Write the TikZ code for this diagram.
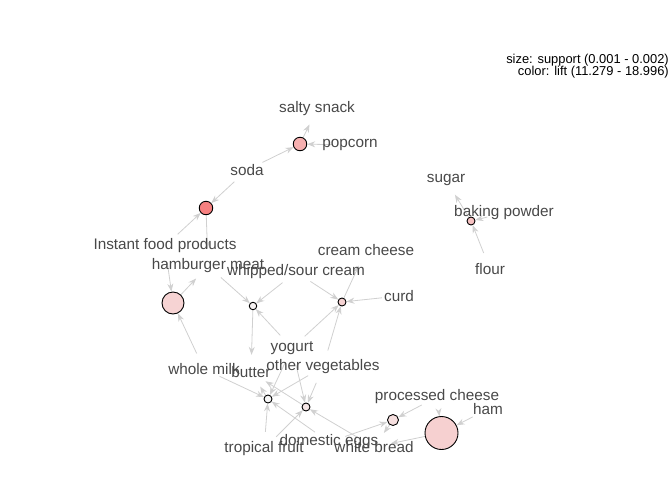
\documentclass[tikz,border=0pt]{standalone}
\usepackage{fontspec}
\setmainfont{Liberation Sans}
\usetikzlibrary{arrows.meta,backgrounds}

\definecolor{liftred}{HTML}{EE0000}
\definecolor{liftgrey}{HTML}{EEEEEE}
\definecolor{edgegrey}{RGB}{208,208,208}
\definecolor{labelgrey}{RGB}{72,72,72}

\tikzset{
  itemnode/.style={circle, minimum size=34pt, inner sep=0pt},
  itemtext/.style={text=labelgrey, inner sep=0pt, font=\fontsize{15.3}{18}\selectfont},
  rulenode/.style={circle, draw=black, line width=0.9pt, inner sep=0pt, fill=liftred!#1!liftgrey!50!white},
  ruleedge/.style={edgegrey, line width=0.8pt, -{Stealth[length=8pt,width=6pt]}},
}

\begin{document}
\begin{tikzpicture}[x=1pt, y=-1pt]
	\useasboundingbox (0,0) rectangle (672,480);
	
	% items
	\node[itemnode, label={[itemtext]center:salty snack}] (salty) at (317,109) {};
	\node[itemnode, label={[itemtext]center:popcorn}] (popcorn) at (350,145) {};
	\node[itemnode, label={[itemtext]center:soda}] (soda) at (247,170) {};
	\node[itemnode, label={[itemtext]center:sugar}] (sugar) at (446,180) {};
	\node[itemnode, label={[itemtext]center:baking powder}] (bakingpowder) at (504,213) {};
	\node[itemnode, label={[itemtext]center:flour}] (flour) at (490,269) {};
	\node[itemnode, label={[itemtext]center:Instant food products}] (instant) at (165,246) {};
	\node[itemnode, label={[itemtext]center:hamburger meat}] (hamburger) at (208,266) {};
	\node[itemnode, label={[itemtext]center:whipped/sour cream}] (whipped) at (296,272) {};
	\node[itemnode, label={[itemtext]center:cream cheese}] (creamcheese) at (366,250) {};
	\node[itemnode, label={[itemtext]center:curd}] (curd) at (399,296) {};
	\node[itemnode, label={[itemtext]center:yogurt}] (yogurt) at (292,348) {};
	\node[itemnode, label={[itemtext]center:other vegetables}] (othveg) at (323,367) {};
	\node[itemnode, label={[itemtext]center:whole milk}] (wholemilk) at (204,369) {};
	\node[itemnode, label={[itemtext]center:butter}] (butter) at (251,372) {};
	\node[itemnode, label={[itemtext]center:processed cheese}] (processed) at (437,397) {};
	\node[itemnode, label={[itemtext]center:ham}] (ham) at (488,409) {};
	\node[itemnode, label={[itemtext]center:tropical fruit}] (tropical) at (264,449) {};
	\node[itemnode, label={[itemtext]center:domestic eggs}] (eggs) at (329,442) {};
	\node[itemnode, label={[itemtext]center:white bread}] (whitebread) at (374,447) {};
	
	% rules
	\node[rulenode=60, minimum size=13.5pt] (r1) at (300,144) {};
	\node[rulenode=100, minimum size=13.5pt] (r2) at (206,208) {};
	\node[rulenode=30, minimum size=22pt] (r3) at (173,303) {};
	\node[rulenode=4, minimum size=7.5pt] (r4) at (253,306) {};
	\node[rulenode=30, minimum size=8pt] (r5) at (342,302) {};
	\node[rulenode=0, minimum size=8pt] (r6) at (268,399) {};
	\node[rulenode=14, minimum size=8pt] (r7) at (306,407) {};
	\node[rulenode=20, minimum size=11pt] (r8) at (393,420) {};
	\node[rulenode=32, minimum size=33pt] (r9) at (441.5,433) {};
	\node[rulenode=45, minimum size=8pt] (rb) at (471,221) {};
	
	\begin{scope}[on background layer]
		\draw[ruleedge] (soda) -- (r1);
		\draw[ruleedge] (popcorn) -- (r1);
		\draw[ruleedge] (r1) -- (salty);
		
		\draw[ruleedge] (instant) -- (r2);
		\draw[ruleedge] (soda) -- (r2);
		\draw[ruleedge] (r2) -- (hamburger);
		
		\draw[ruleedge] (flour) -- (rb);
		\draw[ruleedge] (bakingpowder) -- (rb);
		\draw[ruleedge] (rb) -- (sugar);
		
		\draw[ruleedge] (ham) -- (r9);
		\draw[ruleedge] (processed) -- (r9);
		\draw[ruleedge] (r9) -- (whitebread);
		
		\draw[ruleedge] (wholemilk) -- (r3);
		\draw[ruleedge] (instant) -- (r3);
		\draw[ruleedge] (r3) -- (hamburger);
		
		\draw[ruleedge] (othveg) -- (r5);
		\draw[ruleedge] (curd) -- (r5);
		\draw[ruleedge] (yogurt) -- (r5);
		\draw[ruleedge] (whipped) -- (r5);
		\draw[ruleedge] (r5) -- (creamcheese);
		
		\draw[ruleedge] (processed) -- (r8);
		\draw[ruleedge] (eggs) -- (r8);
		\draw[ruleedge] (r8) -- (whitebread);
		
		\draw[ruleedge] (tropical) -- (r7);
		\draw[ruleedge] (othveg) -- (r7);
		\draw[ruleedge] (yogurt) -- (r7);
		\draw[ruleedge] (whitebread) -- (r7);
		\draw[ruleedge] (r7) -- (butter);
		
		\draw[ruleedge] (hamburger) -- (r4);
		\draw[ruleedge] (yogurt) -- (r4);
		\draw[ruleedge] (whipped) -- (r4);
		\draw[ruleedge] (r4) -- (butter);
		
		\draw[ruleedge] (tropical) -- (r6);
		\draw[ruleedge] (othveg) -- (r6);
		\draw[ruleedge] (wholemilk) -- (r6);
		\draw[ruleedge] (yogurt) -- (r6);
		\draw[ruleedge] (eggs) -- (r6);
		\draw[ruleedge] (r6) -- (butter);
	\end{scope}
	
	% legend
	\node[anchor=base east, inner sep=0pt, font=\fontsize{12.9}{12}\selectfont] (legsize) at (669,63) {size: support (0.001 - 0.002)};
	\node[anchor=base east, inner sep=0pt, font=\fontsize{12.9}{12}\selectfont] (legcolor) at (669,75) {color: lift (11.279 - 18.996)};
	
\end{tikzpicture}
\end{document}
